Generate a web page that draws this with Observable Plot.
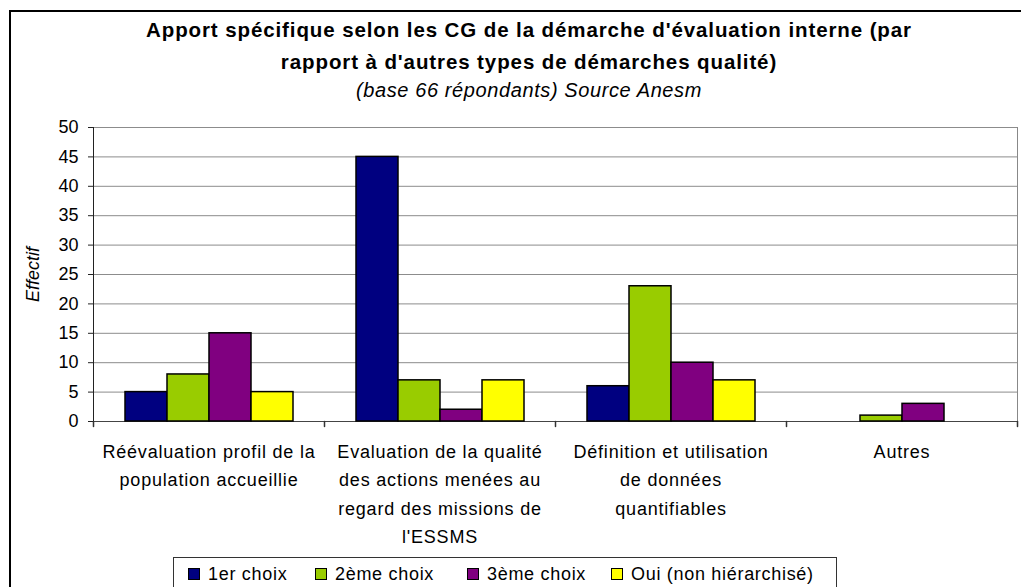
<!DOCTYPE html>
<html>
<head>
<meta charset="utf-8">
<script src="https://cdn.jsdelivr.net/npm/d3@7"></script>
<script src="https://cdn.jsdelivr.net/npm/@observablehq/plot@0.6"></script>
<style>
  html, body { margin: 0; padding: 0; background: #fff; overflow: hidden; }
  body { width: 1021px; height: 587px; position: relative; font-family: "Liberation Sans", Arial, sans-serif; }
  #border { position: absolute; left: 9px; top: 10px; width: 1060px; height: 640px; border: 2px solid #000; box-sizing: border-box; }
  .title { position: absolute; left: 0; width: 1058px; text-align: center; color: #000; white-space: nowrap; }
  #t1 { top: 18px; font-size: 20.5px; font-weight: bold; letter-spacing: 0.9px; }
  #t2 { top: 50px; font-size: 20.5px; font-weight: bold; letter-spacing: 0.9px; }
  #t3 { top: 79px; font-size: 20px; font-style: italic; letter-spacing: 0.6px; }
  #chart { position: absolute; left: 0; top: 0; }
  #chart svg { overflow: visible; }
  g[aria-label="y-axis label"] text { font-style: italic; }
  #legend { position: absolute; left: 173px; top: 557px; width: 664px; height: 60px; border: 1px solid #333; box-sizing: border-box; background: #fff; }
  .item { position: absolute; top: 6px; font-size: 18px; letter-spacing: 0.7px; line-height: 20px; white-space: nowrap; }
  .sw { position: absolute; top: 4px; width: 12px; height: 12px; border: 1px solid #000; box-sizing: border-box; }
</style>
</head>
<body>
<div id="border"></div>
<div class="title" id="t1">Apport spécifique selon les CG de la démarche d'évaluation interne (par</div>
<div class="title" id="t2">rapport à d'autres types de démarches qualité)</div>
<div class="title" id="t3">(base 66 répondants) Source Anesm</div>
<div id="chart"></div>
<div id="legend"></div>
<script>
// ---- data ----
const categories = [
  "Réévaluation profil de la population accueillie",
  "Evaluation de la qualité des actions menées au regard des missions de l'ESSMS",
  "Définition et utilisation de données quantifiables",
  "Autres"
];
const categoryLabels = [
  "Réévaluation profil de la\npopulation accueillie",
  "Evaluation de la qualité\ndes actions menées au\nregard des missions de\nl'ESSMS",
  "Définition et utilisation\nde données\nquantifiables",
  "Autres"
];
const series = ["1er choix", "2ème choix", "3ème choix", "Oui (non hiérarchisé)"];
const choix1 = [5, 45, 6, 0];
const choix2 = [8, 7, 23, 1];
const choix3 = [15, 2, 10, 3];
const oui = [5, 7, 7, 0];
const colors = ["#000080", "#99CC00", "#800080", "#FFFF00"];
const yTicks = [0, 5, 10, 15, 20, 25, 30, 35, 40, 45, 50];

// ---- table ----
const valuesBySeries = [choix1, choix2, choix3, oui];
const data = [];
categories.forEach((c, i) => {
  series.forEach((s, j) => data.push({category: c, series: s, value: valuesBySeries[j][i]}));
});
const labelOf = new Map(categories.map((c, i) => [c, categoryLabels[i]]));

const tickShape = {draw(context, l) { context.moveTo(0, 0); context.lineTo(0, -l); }};

const chart = Plot.plot({
  width: 1021,
  height: 587,
  marginLeft: 91,
  marginRight: 3,
  marginTop: 127,
  marginBottom: 166,
  style: {fontFamily: "Liberation Sans, Arial, sans-serif", fontSize: "18px", color: "#000", background: "transparent"},
  fx: {domain: categories, padding: 0, axis: null},
  x: {domain: series, paddingInner: 0, paddingOuter: 0.74, axis: null},
  y: {domain: [0, 50]},
  color: {domain: series, range: colors},
  marks: [
    Plot.gridY(yTicks, {stroke: "#8c8c8c", strokeOpacity: 1}),
    Plot.ruleY([0], {stroke: "#444"}),
    Plot.frame({anchor: "right", facet: "super", stroke: "#888"}),
    Plot.frame({anchor: "left", facet: "super", stroke: "#222"}),
    Plot.barY(data.filter(d => d.value > 0), {fx: "category", x: "series", y: "value", fill: "series", stroke: "#000", strokeWidth: 1.5}),
    Plot.vector(categories, {fx: d => d, frameAnchor: "bottom-right", length: 5, rotate: 180, anchor: "start", shape: tickShape, stroke: "#333"}),
    Plot.vector(categories.slice(0, 1), {fx: d => d, frameAnchor: "bottom-left", length: 5, rotate: 180, anchor: "start", shape: tickShape, stroke: "#333"}),
    Plot.text(categories, {fx: d => d, text: d => labelOf.get(d), frameAnchor: "bottom", lineAnchor: "top", dy: 16, lineHeight: 1.58, fontSize: 18, fill: "#000"}),
    Plot.axisY({ticks: yTicks, tickSize: 5, tickPadding: 10, fontSize: 18, stroke: "#222", label: "Effectif", labelAnchor: "center", labelArrow: "none", labelOffset: 67})
  ]
});
document.getElementById("chart").append(chart);
d3.select(chart).selectAll('g[aria-label="text"] text').style("letter-spacing", "0.8px");

// ---- legend ----
const legend = document.getElementById("legend");
const swLeft = [14, 141, 293, 437];
series.forEach((s, i) => {
  const sw = document.createElement("div");
  sw.className = "sw";
  sw.style.left = (swLeft[i]) + "px";
  sw.style.top = "10px";
  sw.style.background = colors[i];
  legend.append(sw);
  const t = document.createElement("div");
  t.className = "item";
  t.style.left = (swLeft[i] + 20) + "px";
  t.textContent = s;
  legend.append(t);
});
</script>
</body>
</html>
